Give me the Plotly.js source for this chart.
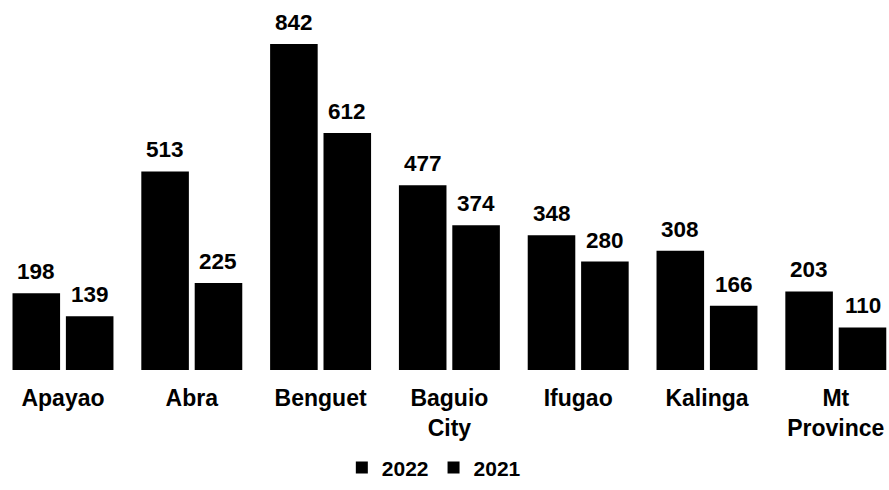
<!DOCTYPE html>
<html>
<head>
<meta charset="utf-8">
<script src="https://cdn.plot.ly/plotly-3.0.1.min.js"></script>
<style>html,body{margin:0;padding:0;background:#fff;}#chart{width:889px;height:490px;}</style>
</head>
<body>
<div id="chart"></div>
<script>
var categories = ["Apayao", "Abra", "Benguet", "Baguio City", "Ifugao", "Kalinga", "Mt Province"];
var tickLabels = ["Apayao", "Abra", "Benguet", "Baguio<br>City", "Ifugao", "Kalinga", "Mt<br>Province"];
var values2022 = [198, 513, 842, 477, 348, 308, 203];
var values2021 = [139, 225, 612, 374, 280, 166, 110];
var seriesNames = ["2022", "2021"];

var seriesValues = [values2022, values2021];
var traces = seriesValues.map(function (vals, i) {
  return {
    type: 'bar',
    name: seriesNames[i],
    x: categories,
    y: vals,
    marker: {color: '#000000', line: {width: 0}},
    hoverinfo: 'skip'
  };
});

var annotations = [];
var shifts = [-26.7, 26.7];
seriesValues.forEach(function (vals, i) {
  vals.forEach(function (v, j) {
    annotations.push({
      x: categories[j], y: v, xref: 'x', yref: 'y',
      text: String(v), showarrow: false,
      xshift: shifts[i], yshift: 7, yanchor: 'bottom', xanchor: 'center',
      font: {family: 'Liberation Sans, Arial, sans-serif', size: 22.5, color: '#000', weight: 'bold'}
    });
  });
});

var layout = {
  width: 889, height: 490,
  margin: {l: 0, r: 0, t: 44, b: 120, pad: 0},
  paper_bgcolor: '#ffffff', plot_bgcolor: '#ffffff',
  font: {family: 'Liberation Sans, Arial, sans-serif', size: 22, color: '#000', weight: 'bold'},
  barmode: 'group',
  bargap: 0.171,
  bargroupgap: 0.109,
  showlegend: true,
  legend: {
    orientation: 'h', x: 0.488, xanchor: 'center', y: -0.30, yanchor: 'middle',
    font: {size: 21, color: '#000', weight: 'bold'},
    itemwidth: 30, tracegroupgap: 0, traceorder: 'normal'
  },
  xaxis: {
    type: 'category',
    range: [-0.489, 6.413],
    tickmode: 'array', tickvals: categories, ticktext: tickLabels,
    showgrid: false, zeroline: false, showline: false, ticks: '',
    ticklabelstandoff: 12,
    tickfont: {size: 23, weight: 'bold', color: '#000'}
  },
  yaxis: {
    range: [0, 842],
    showgrid: false, zeroline: false, showline: false, showticklabels: false, ticks: ''
  },
  annotations: annotations
};

Plotly.newPlot('chart', traces, layout, {displayModeBar: false, staticPlot: true});
</script>
</body>
</html>
